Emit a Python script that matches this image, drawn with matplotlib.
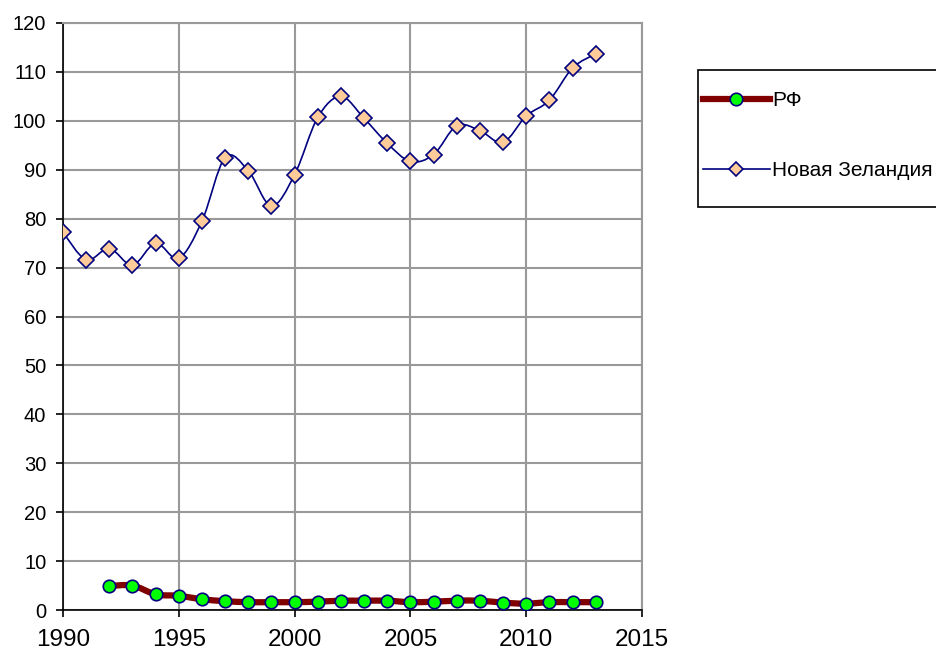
import numpy as np
import matplotlib.pyplot as plt
from matplotlib.path import Path
from matplotlib.patches import PathPatch, Rectangle
from matplotlib.lines import Line2D

plt.rcParams['font.family'] = ['Liberation Sans', 'DejaVu Sans']

# data
years_nz = list(range(1990, 2014))
nz = [77.2, 71.6, 73.9, 70.5, 75.0, 71.9, 79.5, 92.5, 89.8, 82.6, 89.0, 100.7,
      105.0, 100.5, 95.4, 91.7, 93.1, 99.0, 98.0, 95.6, 101.0, 104.2, 110.8, 113.7]
years_rf = list(range(1992, 2014))
rf = [4.9, 5.0, 3.2, 2.9, 2.2, 1.8, 1.6, 1.6, 1.6, 1.7, 1.9, 1.9, 1.9, 1.6,
      1.7, 1.9, 1.9, 1.5, 1.3, 1.6, 1.6, 1.6]
labels = ['РФ', 'Новая Зеландия']


def smooth_path(x, y, t=1 / 6):
    # Excel-like smoothed line as cubic bezier segments through the points
    x = np.asarray(x, float)
    y = np.asarray(y, float)
    verts = [(x[0], y[0])]
    codes = [Path.MOVETO]
    n = len(x)
    for i in range(n - 1):
        p0 = i - 1 if i > 0 else i
        p3 = i + 2 if i + 2 < n else i + 1
        c1 = (x[i] + (x[i + 1] - x[p0]) * t, y[i] + (y[i + 1] - y[p0]) * t)
        c2 = (x[i + 1] - (x[p3] - x[i]) * t, y[i + 1] - (y[p3] - y[i]) * t)
        verts += [c1, c2, (x[i + 1], y[i + 1])]
        codes += [Path.CURVE4] * 3
    return Path(verts, codes)


fig = plt.figure(figsize=(9.37, 6.54), dpi=100)
ax = fig.add_axes([63 / 937, 44 / 654, 579 / 937, 587 / 654])

ax.add_patch(PathPatch(smooth_path(years_rf, rf), facecolor='none',
                       edgecolor='#800000', lw=4.5, capstyle='round', zorder=3))
ax.plot(years_rf, rf, ls='none', marker='o', ms=9, mfc='#00ff00',
        mec='#000080', mew=1.2, zorder=4)

ax.add_patch(PathPatch(smooth_path(years_nz, nz), facecolor='none',
                       edgecolor='#000080', lw=1.2, zorder=3))
ax.plot(years_nz, nz, ls='none', marker='D', ms=8, mfc='#ffcc99',
        mec='#000080', mew=1.2, zorder=4)

ax.set_xlim(1990, 2015)
ax.set_ylim(0, 120)
ax.set_xticks(range(1990, 2016, 5))
ax.set_yticks(range(0, 121, 10))
ax.tick_params(axis='x', labelsize=17.5, length=5, width=1.2, direction='out', pad=9)
ax.tick_params(axis='y', labelsize=14.5, length=5, width=1.2, direction='out', pad=7)
ax.grid(True, color='#999999', lw=1.5)
ax.set_axisbelow(True)
for s in ['top', 'right']:
    ax.spines[s].set_color('#999999')
    ax.spines[s].set_linewidth(1.5)
for s in ['left', 'bottom']:
    ax.spines[s].set_color('black')
    ax.spines[s].set_linewidth(1.2)

# legend frame (runs off the right edge like the original)
fig.patches.append(Rectangle((698 / 937, 447 / 654), 260 / 937, 137 / 654,
                             transform=fig.transFigure, facecolor='white',
                             edgecolor='black', lw=1.2, zorder=1))

handles = [
    Line2D([], [], color='#800000', lw=4.5, marker='o', ms=9, mfc='#00ff00',
           mec='#000080', mew=1.2),
    Line2D([], [], color='#000080', lw=1.2, marker='D', ms=7, mfc='#ffcc99',
           mec='#000080', mew=1.2),
]
leg = fig.legend(handles, labels, loc='upper left',
                 bbox_to_anchor=(703 / 937, 563 / 654), fontsize=15,
                 frameon=False, handlelength=3.2, handletextpad=0.1,
                 labelspacing=2.45, borderpad=0, borderaxespad=0)
leg.set_zorder(2)

fig.savefig('out.png', dpi=100)
